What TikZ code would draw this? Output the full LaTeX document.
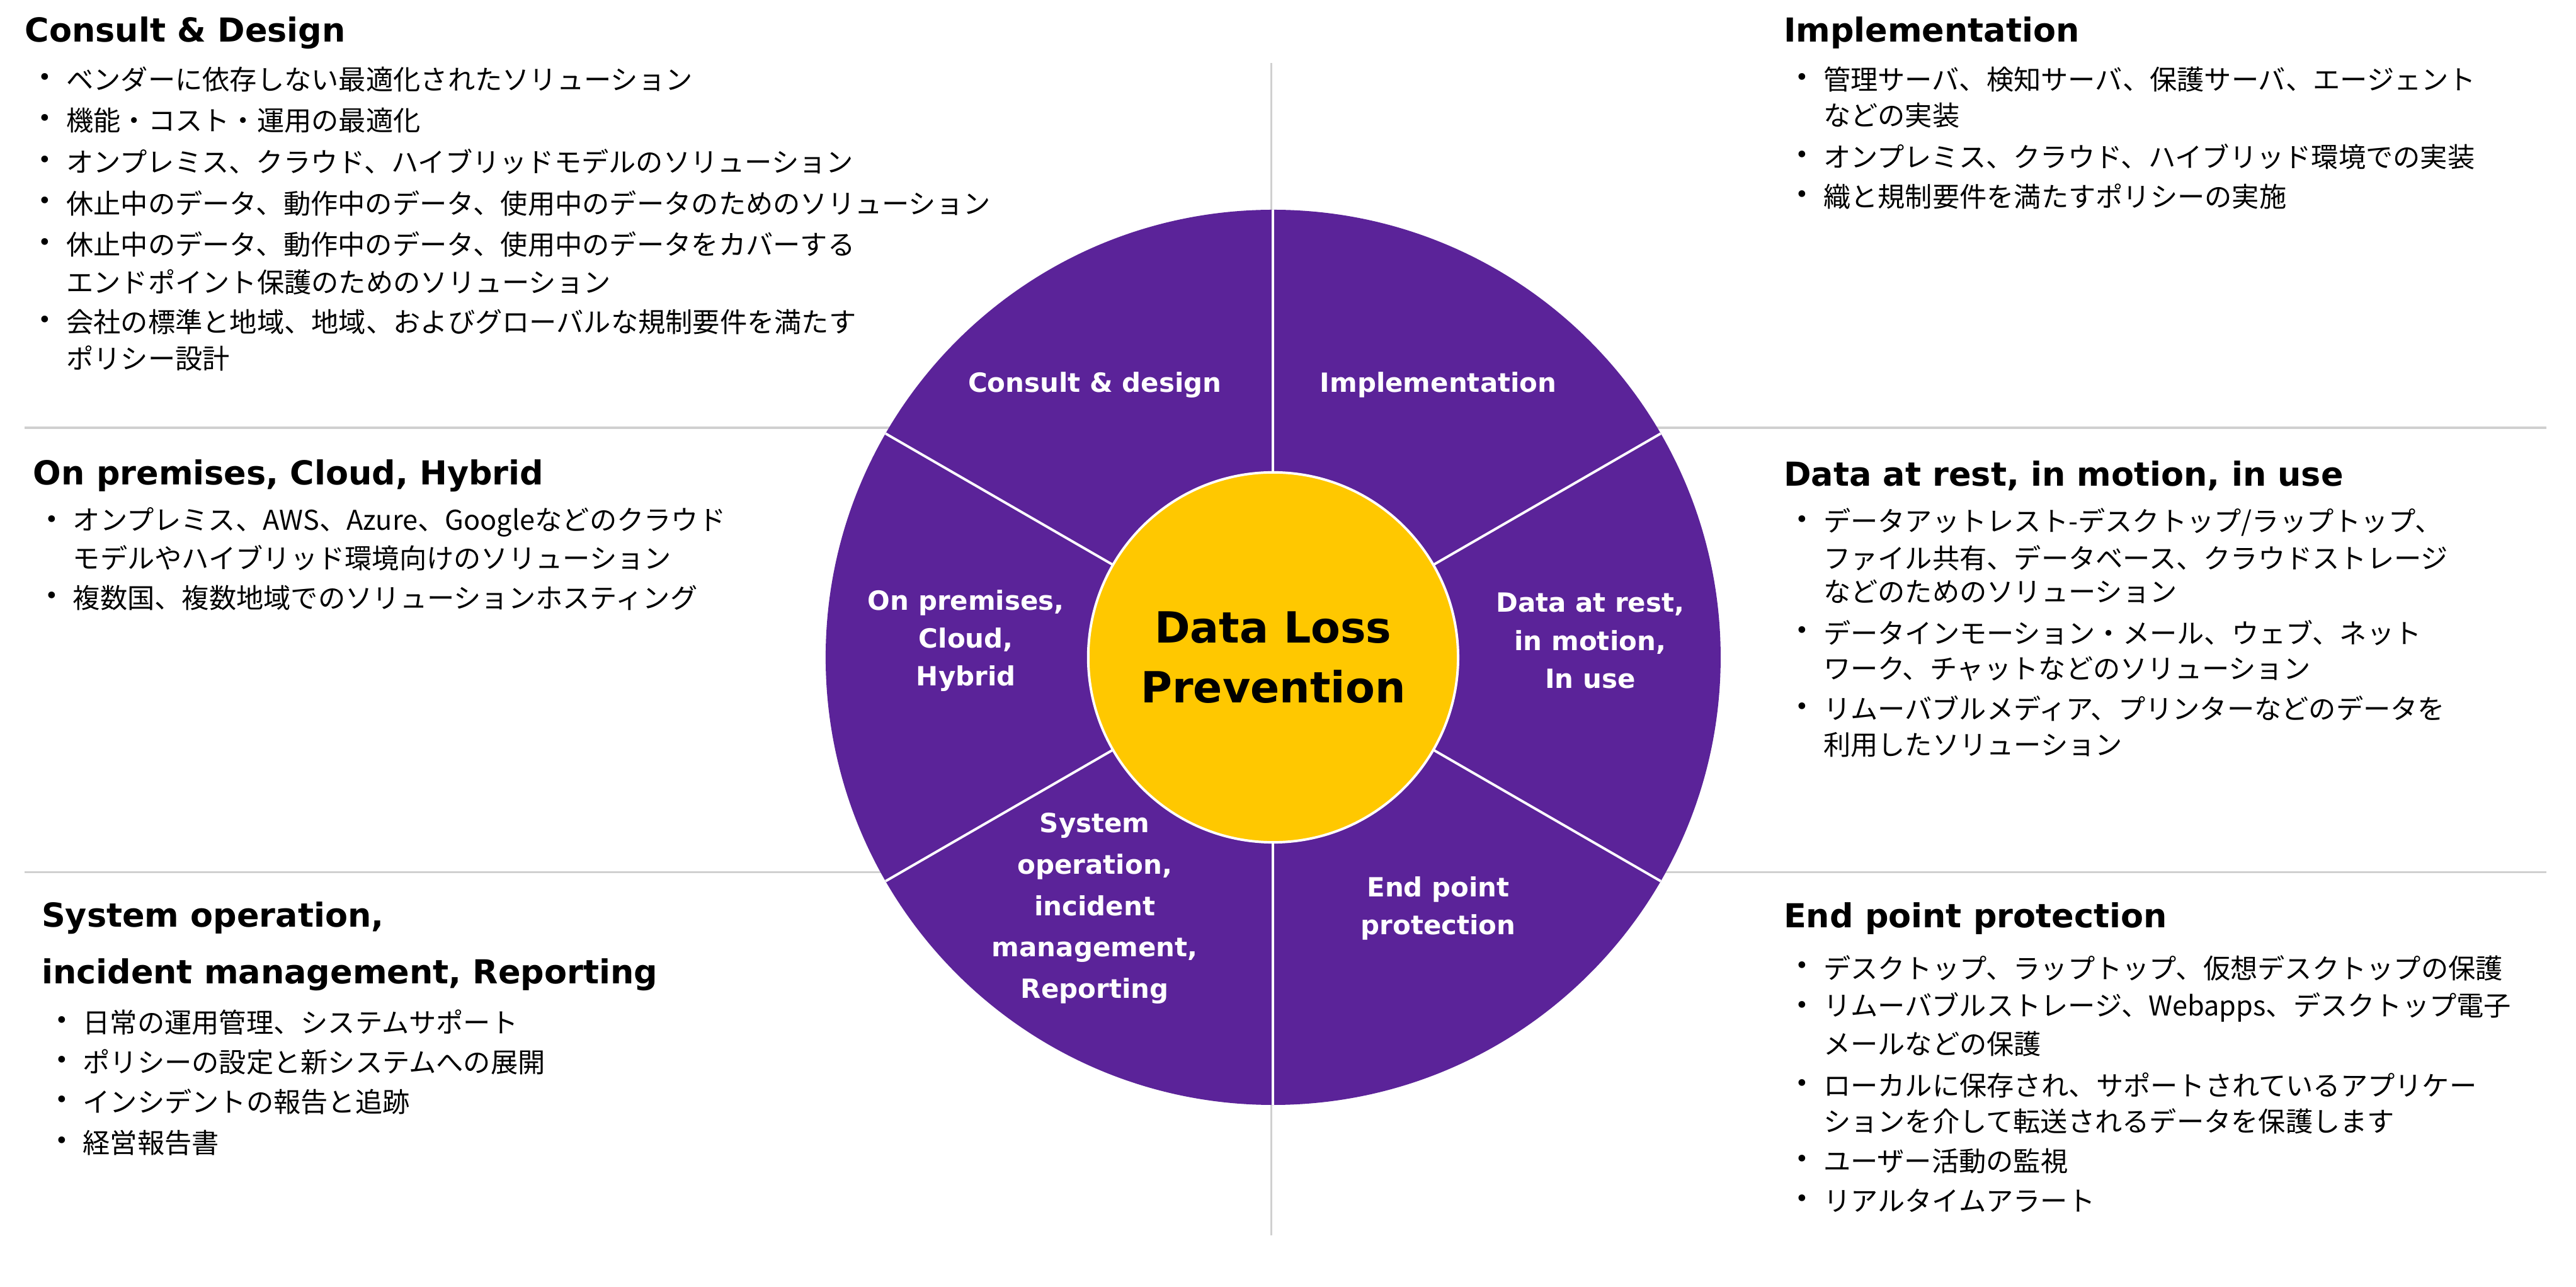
\documentclass[tikz,border=0pt]{standalone}
\usepackage{fontspec}
\setmainfont{DejaVu Sans}
\newfontfamily\jp{Noto Sans CJK JP}
\newfontfamily\hd{DejaVu Sans}
\definecolor{dlppurple}{HTML}{5B2399}
\definecolor{dlpyellow}{HTML}{FFC800}
\definecolor{gridgray}{HTML}{D0D0D0}
\newcommand{\bl}[4]{%
  \node[bul] (b#1) at (#2-17,-#3) {•};
  \node[txt] (t#1) at (#2,-#3) {#4};}
\newcommand{\cl}[4]{\node[txt] (t#1) at (#2,-#3) {#4};}
\begin{document}
\begin{tikzpicture}[x=1pt,y=1pt,
  txt/.style={anchor=west,inner sep=0pt,font=\jp\fontsize{16.5}{18}\selectfont},
  bul/.style={anchor=west,inner sep=0pt,font=\fontsize{14}{16}\selectfont},
  head/.style={anchor=west,inner sep=0pt,font=\hd\bfseries\fontsize{20}{24}\selectfont},
  seg/.style={align=center,text=white,font=\bfseries\fontsize{16}{23}\selectfont},
  sep/.style={white,line width=1.5pt}]
\useasboundingbox (0,0) rectangle (1560,-779);
% grid
\coordinate (vt) at (770,-38); \coordinate (vb) at (770,-748);
\coordinate (h1l) at (15,-259); \coordinate (h1r) at (1542,-259);
\coordinate (h2l) at (15,-528); \coordinate (h2r) at (1542,-528);
\draw[gridgray,line width=1.2pt] (vt)--(vb) (h1l)--(h1r) (h2l)--(h2r);
% wheel
\coordinate (c) at (771,-398);
\fill[dlppurple] (c) circle (271);
\foreach \a in {90,30,-30,-90,210,150} \draw[sep] (c) -- ++(\a:271);
\node[circle,fill=dlpyellow,draw=white,line width=1.5pt,minimum size=224pt,inner sep=0pt,
  align=center,font=\bfseries\fontsize{26}{36}\selectfont] (core) at (c) {Data Loss\\Prevention};
\node[seg] (s1) at (663,-233) {Consult \& design};
\node[seg] (s2) at (871,-233) {Implementation};
\node[seg] (s3) at (963,-388) {Data at rest,\\in motion,\\In use};
\node[seg] (s4) at (871,-550) {End point\\protection};
\node[seg,font=\bfseries\fontsize{16}{25}\selectfont] (s5) at (663,-550) {System\\operation,\\incident\\management,\\Reporting};
\node[seg] (s6) at (585,-388) {On premises,\\Cloud,\\Hybrid};
% top left
\node[head] (h1) at (15,-20) {Consult \& Design};
\bl{a1}{40}{48}{ベンダーに依存しない最適化されたソリューション}
\bl{a2}{40}{73}{機能・コスト・運用の最適化}
\bl{a3}{40}{98}{オンプレミス、クラウド、ハイブリッドモデルのソリューション}
\bl{a4}{40}{123}{休止中のデータ、動作中のデータ、使用中のデータのためのソリューション}
\bl{a5}{40}{148}{休止中のデータ、動作中のデータ、使用中のデータをカバーする}
\cl{a6}{40}{171}{エンドポイント保護のためのソリューション}
\bl{a7}{40}{195}{会社の標準と地域、地域、およびグローバルな規制要件を満たす}
\cl{a8}{40}{217}{ポリシー設計}
% top right
\node[head] (h2) at (1080,-20) {Implementation};
\bl{b1}{1104}{48}{管理サーバ、検知サーバ、保護サーバ、エージェント}
\cl{b2}{1104}{70}{などの実装}
\bl{b3}{1104}{95}{オンプレミス、クラウド、ハイブリッド環境での実装}
\bl{b4}{1104}{119}{織と規制要件を満たすポリシーの実施}
% mid left
\node[head] (h3) at (20,-288) {On premises, Cloud, Hybrid};
\bl{c1}{44}{316}{オンプレミス、AWS、Azure、Googleなどのクラウド}
\cl{c2}{44}{338}{モデルやハイブリッド環境向けのソリューション}
\bl{c3}{44}{362}{複数国、複数地域でのソリューションホスティング}
% mid right
\node[head] (h4) at (1080,-288) {Data at rest, in motion, in use};
\bl{d1}{1104}{316}{データアットレスト-デスクトップ/ラップトップ、}
\cl{d2}{1104}{338}{ファイル共有、データベース、クラウドストレージ}
\cl{d3}{1104}{358}{などのためのソリューション}
\bl{d4}{1104}{383}{データインモーション・メール、ウェブ、ネット}
\cl{d5}{1104}{405}{ワーク、チャットなどのソリューション}
\bl{d6}{1104}{429}{リムーバブルメディア、プリンターなどのデータを}
\cl{d7}{1104}{451}{利用したソリューション}
% bottom left
\node[head] (h5) at (25,-556) {System operation,};
\node[head] (h5b) at (25,-590) {incident management, Reporting};
\bl{e1}{50}{619}{日常の運用管理、システムサポート}
\bl{e2}{50}{643}{ポリシーの設定と新システムへの展開}
\bl{e3}{50}{667}{インシデントの報告と追跡}
\bl{e4}{50}{692}{経営報告書}
% bottom right
\node[head] (h6) at (1080,-556) {End point protection};
\bl{f1}{1104}{586}{デスクトップ、ラップトップ、仮想デスクトップの保護}
\bl{f2}{1104}{610}{リムーバブルストレージ、Webapps、デスクトップ電子}
\cl{f3}{1104}{632}{メールなどの保護}
\bl{f4}{1104}{657}{ローカルに保存され、サポートされているアプリケー}
\cl{f5}{1104}{679}{ションを介して転送されるデータを保護します}
\bl{f6}{1104}{703}{ユーザー活動の監視}
\bl{f7}{1104}{727}{リアルタイムアラート}
\end{tikzpicture}
\end{document}
